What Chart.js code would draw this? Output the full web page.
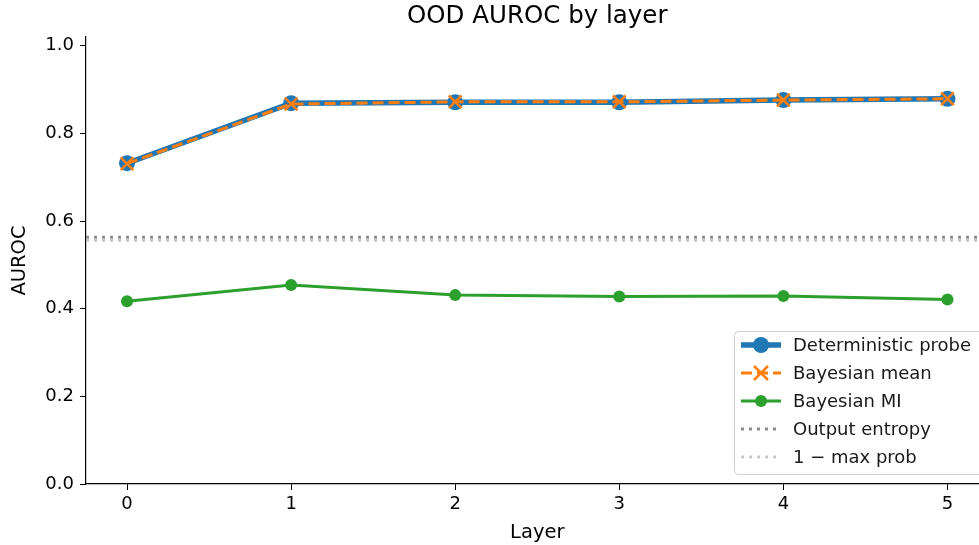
<!DOCTYPE html>
<html>
<head>
<meta charset="utf-8">
<script src="https://cdn.jsdelivr.net/npm/chart.js@4/dist/chart.umd.min.js"></script>
<style>
html,body{margin:0;padding:0;overflow:hidden;background:#fff;width:979px;height:545px;}
canvas{display:block;}
</style>
</head>
<body>
<canvas id="c" width="1000" height="545"></canvas>
<script>
const layers = [0, 1, 2, 3, 4, 5];
const deterministicProbe = [0.732, 0.869, 0.871, 0.871, 0.876, 0.879];
const bayesianMean = [0.731, 0.867, 0.872, 0.872, 0.876, 0.879];
const bayesianMI = [0.417, 0.454, 0.431, 0.428, 0.429, 0.421];
const outputEntropy = 0.563;
const oneMinusMaxProb = 0.556;
const xLimits = [-0.25, 5.25];
const yLimits = [0, 1.02];
const yTicks = [0, 0.2, 0.4, 0.6, 0.8, 1.0];
const titleText = 'OOD AUROC by layer';
const xTitle = 'Layer';
const yTitle = 'AUROC';
const legendLabels = ['Deterministic probe', 'Bayesian mean', 'Bayesian MI', 'Output entropy', '1 \u2212 max prob'];

const FONT = "'DejaVu Sans', sans-serif";
const C_BLUE = '#1f77b4', C_ORANGE = '#ff7f0e', C_GREEN = '#2ca02c', C_GRAY = '#8c8c8c', C_LGRAY = '#c8c8c8';

const pts = (vals) => layers.map((l, i) => ({x: l, y: vals[i]}));
const hline = (v) => xLimits.map(x => ({x: x, y: v}));

const decor = {
  id: 'decor',
  afterDraw(chart) {
    const ctx = chart.ctx, a = chart.chartArea;
    ctx.save();
    ctx.fillStyle = '#000';
    ctx.textAlign = 'center';
    ctx.textBaseline = 'middle';
    ctx.font = "24.5px " + FONT;
    ctx.fillText(titleText, (a.left + a.right) / 2, 17);
    ctx.font = "19.5px " + FONT;
    ctx.fillText(xTitle, (a.left + a.right) / 2, 533);
    ctx.translate(20, (a.top + a.bottom) / 2);
    ctx.rotate(-Math.PI / 2);
    ctx.fillText(yTitle, 0, 0);
    ctx.restore();

    // legend
    ctx.save();
    const bx = 734.5, by = 331.5, bw = 260, bh = 143, r = 4;
    ctx.beginPath();
    ctx.moveTo(bx + r, by);
    ctx.lineTo(bx + bw - r, by);
    ctx.arcTo(bx + bw, by, bx + bw, by + r, r);
    ctx.lineTo(bx + bw, by + bh - r);
    ctx.arcTo(bx + bw, by + bh, bx + bw - r, by + bh, r);
    ctx.lineTo(bx + r, by + bh);
    ctx.arcTo(bx, by + bh, bx, by + bh - r, r);
    ctx.lineTo(bx, by + r);
    ctx.arcTo(bx, by, bx + r, by, r);
    ctx.closePath();
    ctx.fillStyle = 'rgba(255,255,255,0.85)';
    ctx.fill();
    ctx.strokeStyle = '#d0d0d0';
    ctx.lineWidth = 1;
    ctx.stroke();

    const x0 = 741, x1 = 781, xm = 761, tx = 793;
    const rows = [345, 373, 401, 429, 457];
    ctx.lineCap = 'butt';
    ctx.strokeStyle = C_BLUE; ctx.lineWidth = 5.5; ctx.setLineDash([]);
    ctx.beginPath(); ctx.moveTo(x0, rows[0]); ctx.lineTo(x1, rows[0]); ctx.stroke();
    ctx.fillStyle = C_BLUE; ctx.beginPath(); ctx.arc(xm, rows[0], 8, 0, Math.PI * 2); ctx.fill();
    ctx.strokeStyle = C_ORANGE; ctx.lineWidth = 3; ctx.setLineDash([11, 5]);
    ctx.beginPath(); ctx.moveTo(x0, rows[1]); ctx.lineTo(x1, rows[1]); ctx.stroke();
    ctx.setLineDash([]); ctx.lineWidth = 2.5;
    ctx.beginPath();
    ctx.moveTo(xm - 7, rows[1] - 7); ctx.lineTo(xm + 7, rows[1] + 7);
    ctx.moveTo(xm - 7, rows[1] + 7); ctx.lineTo(xm + 7, rows[1] - 7);
    ctx.stroke();
    ctx.strokeStyle = C_GREEN; ctx.lineWidth = 3;
    ctx.beginPath(); ctx.moveTo(x0, rows[2]); ctx.lineTo(x1, rows[2]); ctx.stroke();
    ctx.fillStyle = C_GREEN; ctx.beginPath(); ctx.arc(xm, rows[2], 6, 0, Math.PI * 2); ctx.fill();
    ctx.lineWidth = 3; ctx.setLineDash([3, 5]);
    ctx.strokeStyle = C_GRAY;
    ctx.beginPath(); ctx.moveTo(x0, rows[3]); ctx.lineTo(x1, rows[3]); ctx.stroke();
    ctx.strokeStyle = C_LGRAY;
    ctx.beginPath(); ctx.moveTo(x0, rows[4]); ctx.lineTo(x1, rows[4]); ctx.stroke();
    ctx.setLineDash([]);

    ctx.fillStyle = '#1a1a1a';
    ctx.font = "18px " + FONT;
    ctx.textAlign = 'left';
    ctx.textBaseline = 'middle';
    legendLabels.forEach((t, i) => ctx.fillText(t, tx, rows[i] + 1));
    ctx.restore();
  }
};

new Chart(document.getElementById('c'), {
  type: 'line',
  data: {
    datasets: [
      {label: legendLabels[0], data: pts(deterministicProbe), borderColor: C_BLUE, backgroundColor: C_BLUE,
       borderWidth: 5.5, pointRadius: 8, pointHoverRadius: 8, pointBorderWidth: 0, pointStyle: 'circle', order: 5},
      {label: legendLabels[1], data: pts(bayesianMean), borderColor: C_ORANGE, backgroundColor: C_ORANGE,
       borderWidth: 3, borderDash: [11, 5], pointRadius: 9, pointHoverRadius: 9, pointBorderWidth: 2.5,
       pointBorderColor: C_ORANGE, pointStyle: 'crossRot', order: 4},
      {label: legendLabels[2], data: pts(bayesianMI), borderColor: C_GREEN, backgroundColor: C_GREEN,
       borderWidth: 3, pointRadius: 6, pointHoverRadius: 6, pointBorderWidth: 0, order: 3},
      {label: legendLabels[3], data: hline(outputEntropy), borderColor: C_GRAY, borderWidth: 3,
       borderDash: [3, 5], pointRadius: 0, order: 2},
      {label: legendLabels[4], data: hline(oneMinusMaxProb), borderColor: C_LGRAY, borderWidth: 3,
       borderDash: [3, 5], pointRadius: 0, order: 1}
    ]
  },
  options: {
    responsive: false,
    animation: false,
    devicePixelRatio: 1,
    layout: {padding: {left: 0, top: 37, right: 10, bottom: 0}},
    plugins: {legend: {display: false}, title: {display: false}, tooltip: {enabled: false}},
    scales: {
      x: {
        type: 'linear', min: xLimits[0], max: xLimits[1],
        afterBuildTicks: (s) => { s.ticks = layers.map(v => ({value: v})); },
        afterFit: (s) => { s.height = 61; },
        grid: {drawOnChartArea: false, drawTicks: true, tickLength: 6, tickColor: '#000', tickWidth: 1},
        border: {display: true, color: '#000', width: 1.2},
        ticks: {color: '#000', font: {family: FONT, size: 18}, padding: 4, maxRotation: 0,
                callback: (v) => String(v)}
      },
      y: {
        type: 'linear', min: yLimits[0], max: yLimits[1],
        afterBuildTicks: (s) => { s.ticks = yTicks.map(v => ({value: v})); },
        afterFit: (s) => { s.width = 86; },
        grid: {drawOnChartArea: false, drawTicks: true, tickLength: 6, tickColor: '#000', tickWidth: 1},
        border: {display: true, color: '#000', width: 1.2},
        ticks: {color: '#000', font: {family: FONT, size: 18}, padding: 6,
                callback: (v) => Number(v).toFixed(1)}
      }
    }
  },
  plugins: [decor]
});
</script>
</body>
</html>
